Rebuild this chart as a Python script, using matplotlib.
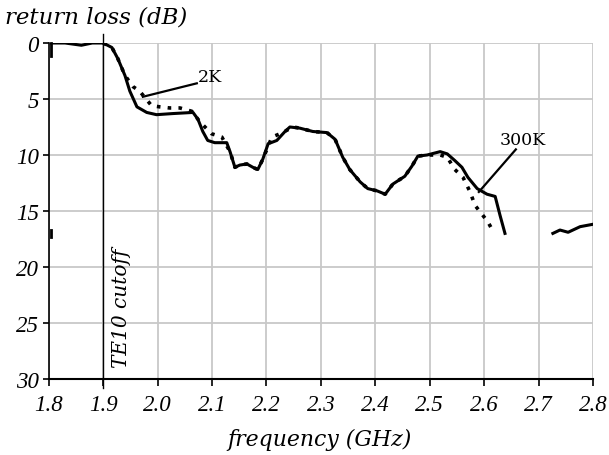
import numpy as np
import matplotlib
matplotlib.use('Agg')
import matplotlib.pyplot as plt

plt.rcParams['font.family'] = 'Liberation Serif'

# 300K measurement (solid)
f_300k = [1.805, 1.83, 1.86, 1.88, 1.90, 1.916, 1.927, 1.94, 1.949, 1.962, 1.98, 1.998,
          2.028, 2.065, 2.074, 2.083, 2.092, 2.105, 2.127, 2.133, 2.142, 2.151, 2.164,
          2.175, 2.184, 2.193, 2.203, 2.219, 2.234, 2.243, 2.261, 2.285, 2.311, 2.326,
          2.340, 2.353, 2.372, 2.386, 2.403, 2.418, 2.432, 2.454, 2.467, 2.478, 2.495,
          2.519, 2.532, 2.546, 2.559, 2.570, 2.587, 2.605, 2.620, 2.629, 2.638]
rl_300k = [0.0, 0.0, 0.2, 0.0, 0.0, 0.4, 1.4, 2.9, 4.3, 5.7, 6.2, 6.4,
           6.3, 6.2, 6.8, 7.9, 8.7, 8.9, 8.9, 9.7, 11.1, 10.9, 10.8,
           11.1, 11.3, 10.4, 9.0, 8.7, 7.9, 7.5, 7.6, 7.9, 8.0, 8.6,
           10.2, 11.3, 12.4, 13.0, 13.2, 13.5, 12.6, 11.9, 11.0, 10.1, 10.0,
           9.7, 9.9, 10.5, 11.1, 12.0, 13.0, 13.5, 13.7, 15.4, 17.0]

# tail of the 300K trace beyond the gap
f_tail = [2.726, 2.739, 2.754, 2.776, 2.798]
rl_tail = [17.0, 16.7, 16.9, 16.4, 16.2]

# 2K measurement (dotted)
f_2k = [1.90, 1.916, 1.927, 1.94, 1.955, 1.967, 1.989, 2.004, 2.022, 2.041, 2.063,
        2.077, 2.087, 2.099, 2.118, 2.133, 2.142, 2.151, 2.164, 2.175, 2.184, 2.193,
        2.21, 2.225, 2.237, 2.249, 2.261, 2.285, 2.311, 2.326, 2.340, 2.353, 2.372,
        2.386, 2.403, 2.418, 2.432, 2.454, 2.467, 2.478, 2.495, 2.519, 2.532, 2.546,
        2.561, 2.574, 2.583, 2.596, 2.607, 2.616]
rl_2k = [0.0, 0.4, 1.4, 2.9, 3.9, 4.3, 5.6, 5.7, 5.8, 5.8, 6.1,
         7.0, 7.5, 8.1, 8.4, 9.7, 11.1, 10.9, 10.8, 11.1, 11.3, 10.4,
         8.4, 8.1, 7.8, 7.5, 7.6, 7.9, 8.0, 8.6, 10.2, 11.3, 12.4,
         13.0, 13.2, 13.5, 12.6, 11.9, 11.0, 10.1, 10.0, 10.0, 10.2, 11.3,
         12.0, 13.3, 14.5, 15.3, 16.0, 16.8]

f_cutoff = 1.9
x_ticks = np.round(np.arange(1.8, 2.81, 0.1), 1)
y_ticks = [0, 5, 10, 15, 20, 25, 30]

fig = plt.figure(figsize=(6.09, 4.56), dpi=100)
ax = fig.add_axes([0.080, 0.1667, 0.894, 0.7368])

ax.plot(f_300k, rl_300k, color='black', lw=2.2)
ax.plot(f_tail, rl_tail, color='black', lw=2.2)
ax.plot(f_2k, rl_2k, color='black', lw=2.6, ls=(0, (1, 2.0)))

# small stubs near the left edge
ax.plot([1.805, 1.805], [0.0, 1.2], color='black', lw=2, clip_on=False)
ax.plot([1.805, 1.805], [16.7, 17.3], color='black', lw=2, clip_on=False)

# cutoff marker
ax.plot([f_cutoff, f_cutoff], [-0.8, 30.8], color='black', lw=1.0, clip_on=False)
ax.text(1.934, 28.9, 'TE10 cutoff', rotation=90, style='italic', fontsize=14.5,
        family='DejaVu Serif', ha='center', va='bottom')

# labels on traces
ax.plot([1.973, 2.072], [4.8, 3.6], color='black', lw=1.6)
ax.text(2.097, 3.0, '2K', fontsize=12.5, family='DejaVu Serif', ha='center', va='center')
ax.plot([2.590, 2.658], [13.3, 9.5], color='black', lw=1.6)
ax.text(2.671, 8.6, '300K', fontsize=12.5, family='DejaVu Serif', ha='center', va='center')

ax.set_xlim(1.8, 2.8)
ax.set_ylim(30, 0)
ax.set_xticks(x_ticks)
ax.set_xticklabels(['%.1f' % v for v in x_ticks], style='italic', fontsize=16.5)
ax.set_yticks(y_ticks)
ax.set_yticklabels([str(v) for v in y_ticks], style='italic', fontsize=16.5)
ax.tick_params(axis='x', direction='out', length=5, width=1.2, pad=6)
ax.tick_params(axis='y', direction='out', length=4, width=1.2, pad=3)
ax.grid(color='#c8c8c8', lw=1.3)
ax.set_axisbelow(True)
for s in ['top', 'right']:
    ax.spines[s].set_visible(False)
ax.spines['left'].set_linewidth(1.2)
ax.spines['bottom'].set_linewidth(1.5)

fig.text(0.008, 0.962, 'return loss (dB)', style='italic', fontsize=16.5,
         family='DejaVu Serif', ha='left', va='center')
fig.text(0.525, 0.035, 'frequency (GHz)', style='italic', fontsize=15.8,
         family='DejaVu Serif', ha='center', va='center')

fig.savefig('out.png', dpi=100)
